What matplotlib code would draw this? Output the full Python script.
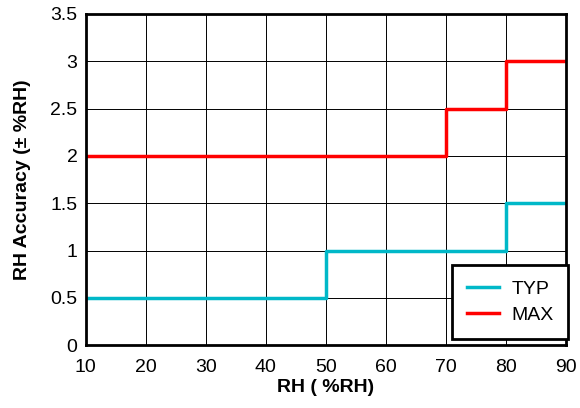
import matplotlib.pyplot as plt

plt.rcParams['font.family'] = ['Liberation Sans', 'DejaVu Sans']

# step data (value holds until next breakpoint)
typ_x = [10, 50, 80, 90]
typ_y = [0.5, 1.0, 1.5, 1.5]
max_x = [10, 70, 80, 90]
max_y = [2.0, 2.5, 3.0, 3.0]

x_ticks = [10, 20, 30, 40, 50, 60, 70, 80, 90]
y_ticks = [0, 0.5, 1, 1.5, 2, 2.5, 3, 3.5]
y_labels = ['0', '0.5', '1', '1.5', '2', '2.5', '3', '3.5']

fig = plt.figure(figsize=(5.8, 4.08), dpi=100)
ax = fig.add_axes([0.148, 0.154, 0.828, 0.812])

ax.step(typ_x, typ_y, where='post', color='#00B8C8', lw=2.5, label='TYP')
ax.step(max_x, max_y, where='post', color='#FF0000', lw=2.5, label='MAX')

ax.set_xlim(10, 90)
ax.set_ylim(0, 3.5)
ax.set_xticks(x_ticks)
ax.set_yticks(y_ticks)
ax.set_yticklabels(y_labels)
ax.grid(True, color='black', lw=0.7)
ax.tick_params(length=0, labelsize=14)
ax.tick_params(axis='x', pad=10)
ax.tick_params(axis='y', pad=6)
for s in ax.spines.values():
    s.set_linewidth(2)

ax.set_xlabel('RH ( %RH)', fontsize=14, fontweight='bold', labelpad=2)
ax.set_ylabel('RH Accuracy (± %RH)', fontsize=14, fontweight='bold', labelpad=14)

leg = ax.legend(loc='lower right', fontsize=14, fancybox=False, framealpha=1,
                edgecolor='black', borderpad=0.75, handlelength=1.65,
                labelspacing=0.45, handletextpad=0.65, borderaxespad=0,
                bbox_to_anchor=(1.005, 0.02))
leg.get_frame().set_linewidth(2)

fig.savefig('out.png', dpi=100)
